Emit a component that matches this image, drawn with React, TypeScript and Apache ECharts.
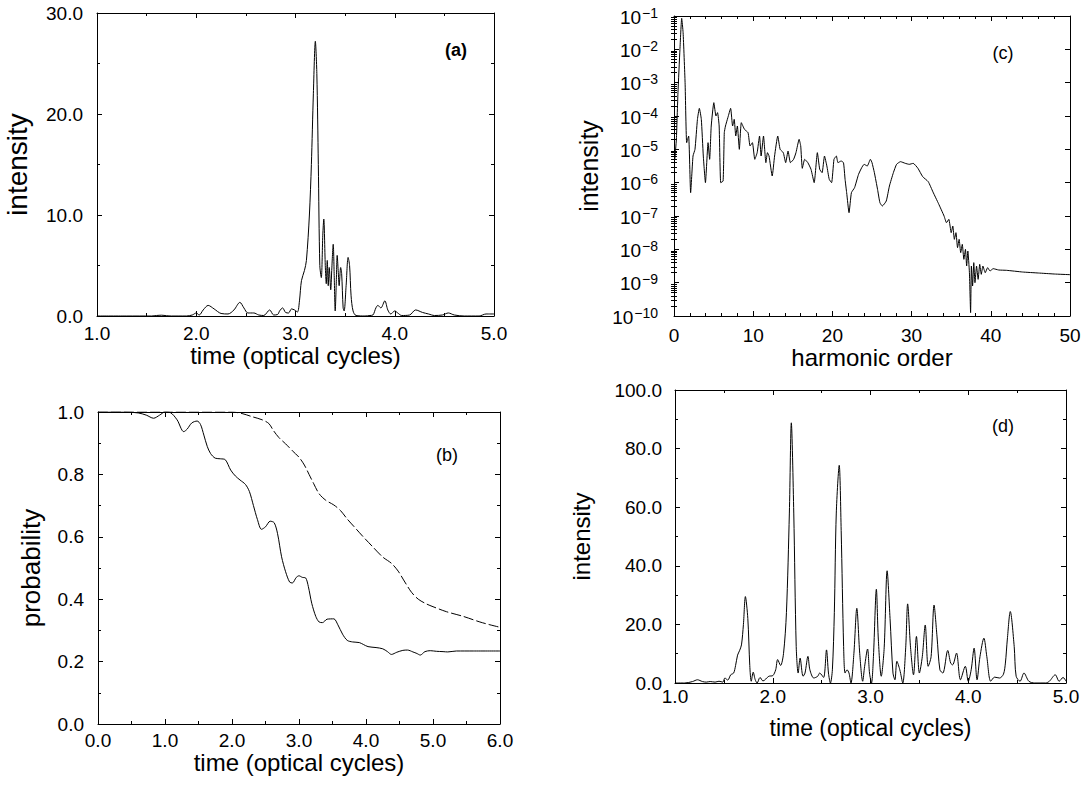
import React, { useEffect, useRef } from 'react';
import * as echarts from 'echarts';

const FONT = '"Liberation Sans", Arial, Helvetica, sans-serif';
const INK = '#000000';

// ---------- panel (a): intensity vs time ----------
const aTime = [1.0, 1.3, 1.55, 1.6, 1.65, 1.7, 1.75, 1.9, 1.96, 2.0, 2.03, 2.07, 2.12, 2.18, 2.25, 2.32, 2.38, 2.44, 2.48, 2.52, 2.58, 2.63, 2.68, 2.74, 2.78, 2.82, 2.84, 2.87, 2.9, 2.93, 2.96, 2.99, 3.02, 3.04, 3.06, 3.09, 3.11, 3.14, 3.16, 3.18, 3.2, 3.215, 3.23, 3.245, 3.26, 3.275, 3.285, 3.3, 3.31, 3.32, 3.33, 3.34, 3.355, 3.365, 3.38, 3.39, 3.4, 3.41, 3.42, 3.43, 3.44, 3.455, 3.465, 3.48, 3.49, 3.51, 3.53, 3.545, 3.56, 3.58, 3.61, 3.7, 3.75, 3.78, 3.81, 3.83, 3.86, 3.9, 3.93, 3.96, 4.0, 4.03, 4.07, 4.15, 4.21, 4.28, 4.34, 4.4, 4.48, 4.54, 4.6, 4.7, 4.85, 4.92, 5.0];
const aIntensity = [0, 0, 0, 0.05, 0.08, 0.03, 0, 0, 0.1, 0.3, 0.1, 0.6, 1.05, 0.7, 0.25, 0.2, 0.6, 1.35, 0.8, 0.3, 0.3, 0.1, 0.05, 0.6, 0.1, 0.15, 0.5, 0.8, 0.35, 0.3, 0.7, 0.6, 0.4, 1.5, 3.5, 4.5, 5.5, 10, 15, 22, 27.2, 24, 15, 5, 3.8, 8, 9.6, 5, 3.2, 5.5, 3.0, 4.8, 2.6, 4.5, 7.1, 4, 0.5, 3, 6, 4.5, 3, 4.8, 4.2, 0.8, 0.5, 3, 5.8, 5, 2, 0.5, 0.05, 0, 0.05, 0.1, 0.8, 1.05, 0.8, 1.5, 0.6, 0.2, 0.5, 0.3, 0.05, 0.1, 0.6, 0.35, 0.2, 0.05, 0.1, 0.3, 0.1, 0, 0, 0.2, 0.2];

// ---------- panel (b): probability vs time ----------
const bSolidTime = [0, 0.4, 0.6, 0.72, 0.83, 0.92, 1.0, 1.08, 1.18, 1.28, 1.33, 1.4, 1.48, 1.53, 1.58, 1.63, 1.68, 1.75, 1.83, 1.9, 1.98, 2.05, 2.12, 2.2, 2.26, 2.32, 2.38, 2.44, 2.5, 2.57, 2.63, 2.68, 2.74, 2.8, 2.86, 2.9, 2.96, 3.0, 3.05, 3.1, 3.14, 3.19, 3.25, 3.3, 3.35, 3.42, 3.52, 3.58, 3.65, 3.72, 3.8, 3.9, 3.96, 4.03, 4.15, 4.25, 4.32, 4.38, 4.46, 4.55, 4.62, 4.7, 4.76, 4.81, 4.88, 4.96, 5.05, 5.15, 5.22, 5.35, 5.6, 6.0];
const bSolidProb = [1.0, 1.0, 0.997, 0.99, 0.98, 0.99, 1.0, 0.998, 0.975, 0.937, 0.945, 0.965, 0.971, 0.96, 0.926, 0.89, 0.867, 0.852, 0.85, 0.847, 0.814, 0.795, 0.782, 0.768, 0.745, 0.7, 0.655, 0.624, 0.632, 0.65, 0.645, 0.61, 0.536, 0.488, 0.455, 0.452, 0.47, 0.475, 0.47, 0.468, 0.44, 0.387, 0.345, 0.327, 0.325, 0.336, 0.337, 0.318, 0.288, 0.268, 0.263, 0.261, 0.255, 0.248, 0.245, 0.241, 0.232, 0.223, 0.23, 0.236, 0.237, 0.231, 0.226, 0.221, 0.232, 0.235, 0.233, 0.232, 0.231, 0.234, 0.234, 0.234];
const bDashTime = [0, 1.0, 2.0, 2.15, 2.3, 2.45, 2.55, 2.62, 2.7, 2.8, 2.9, 3.0, 3.08, 3.15, 3.22, 3.3, 3.4, 3.52, 3.62, 3.72, 3.82, 3.95, 4.1, 4.25, 4.38, 4.48, 4.58, 4.68, 4.78, 4.9, 5.0, 5.2, 5.45, 5.7, 5.85, 6.0];
const bDashProb = [1.0, 1.0, 1.0, 0.995, 0.985, 0.975, 0.963, 0.94, 0.918, 0.898, 0.876, 0.855, 0.83, 0.8, 0.77, 0.738, 0.717, 0.702, 0.684, 0.657, 0.633, 0.602, 0.568, 0.535, 0.515, 0.49, 0.455, 0.422, 0.4, 0.385, 0.376, 0.36, 0.345, 0.327, 0.318, 0.31];

// ---------- panel (c): spectrum, log10(intensity) vs harmonic order ----------
const cOrder = [0.1, 0.3, 0.5, 0.75, 0.97, 1.15, 1.4, 1.6, 1.85, 2.1, 2.4, 2.65, 2.96, 3.2, 3.45, 3.7, 3.97, 4.3, 4.5, 4.7, 5.03, 5.3, 5.5, 5.7, 5.9, 6.2, 6.35, 6.5, 6.8, 7.15, 7.4, 7.6, 7.8, 8.0, 8.25, 8.5, 8.9, 9.35, 9.6, 9.9, 10.2, 10.5, 10.8, 11.0, 11.3, 11.6, 11.8, 12.0, 12.4, 12.7, 13.1, 13.4, 13.8, 14.1, 14.4, 14.7, 15.1, 15.4, 15.8, 16.0, 16.2, 16.5, 16.9, 17.3, 17.7, 18.1, 18.4, 18.7, 19.0, 19.3, 19.6, 19.9, 20.2, 20.5, 20.7, 21.1, 21.4, 21.6, 21.8, 22.1, 22.4, 22.8, 23.3, 23.7, 24.0, 24.4, 24.8, 25.0, 25.3, 25.7, 26.0, 26.3, 26.8, 27.2, 27.7, 28.1, 28.6, 29.2, 29.7, 30.2, 30.8, 31.4, 32.1, 32.7, 33.4, 34.1, 34.4, 34.7, 35.0, 35.2, 35.4, 35.6, 35.8, 36.0, 36.2, 36.4, 36.6, 36.8, 36.95, 37.1, 37.3, 37.45, 37.55, 37.7, 37.85, 38.0, 38.2, 38.4, 38.6, 38.8, 39.0, 39.3, 39.6, 39.9, 40.3, 41.0, 42.0, 44.0, 46.0, 48.0, 50.0];
const cLog10Intensity = [-5.3, -4.7, -3.3, -2.0, -1.07, -1.5, -3.0, -4.8, -4.6, -6.3, -5.2, -5.0, -4.1, -3.77, -4.1, -5.2, -6.0, -4.8, -5.3, -4.3, -3.6, -4.0, -3.9, -4.3, -6.0, -5.95, -4.5, -4.3, -4.05, -3.77, -4.3, -4.1, -4.6, -4.3, -5.0, -4.2, -4.4, -4.5, -4.9, -4.8, -5.3, -5.1, -4.6, -5.2, -4.6, -5.4, -5.1, -5.2, -5.8, -5.2, -4.6, -5.0, -5.1, -5.4, -5.05, -5.4, -5.3, -5.1, -4.7, -4.9, -5.57, -5.3, -5.4, -5.6, -6.0, -5.1, -5.6, -5.7, -5.2, -5.5, -5.9, -6.0, -5.3, -5.2, -5.4, -5.35, -5.4, -5.9, -6.3, -6.9, -6.3, -6.15, -5.75, -5.55, -5.45, -5.5, -5.3, -5.4, -5.7, -6.2, -6.6, -6.7, -6.55, -6.1, -5.7, -5.45, -5.37, -5.42, -5.45, -5.42, -5.57, -5.82, -5.97, -6.28, -6.63, -7.0, -7.2, -7.1, -7.5, -7.3, -7.7, -7.5, -7.95, -7.7, -8.1, -7.85, -8.3, -8.0, -8.5, -8.05, -8.7, -9.9, -8.5, -9.1, -8.4, -9.0, -8.5, -8.9, -8.45, -8.75, -8.5, -8.7, -8.55, -8.65, -8.58, -8.62, -8.63, -8.68, -8.71, -8.74, -8.76];

// ---------- panel (d): intensity vs time ----------
const dTime = [1.0, 1.1, 1.18, 1.23, 1.28, 1.32, 1.36, 1.41, 1.45, 1.49, 1.51, 1.54, 1.57, 1.6, 1.62, 1.64, 1.66, 1.68, 1.7, 1.72, 1.745, 1.765, 1.78, 1.8, 1.82, 1.84, 1.87, 1.9, 1.96, 2.0, 2.03, 2.05, 2.08, 2.11, 2.14, 2.17, 2.19, 2.215, 2.24, 2.26, 2.28, 2.31, 2.33, 2.36, 2.38, 2.42, 2.46, 2.48, 2.52, 2.55, 2.57, 2.59, 2.61, 2.63, 2.65, 2.68, 2.7, 2.725, 2.74, 2.76, 2.78, 2.8, 2.83, 2.86, 2.89, 2.92, 2.94, 2.97, 2.99, 3.01, 3.03, 3.06, 3.08, 3.11, 3.14, 3.17, 3.2, 3.23, 3.25, 3.27, 3.3, 3.33, 3.36, 3.38, 3.41, 3.44, 3.47, 3.5, 3.53, 3.56, 3.59, 3.62, 3.65, 3.68, 3.71, 3.74, 3.79, 3.82, 3.84, 3.88, 3.92, 3.97, 4.0, 4.03, 4.06, 4.09, 4.12, 4.16, 4.19, 4.23, 4.27, 4.32, 4.36, 4.38, 4.4, 4.43, 4.47, 4.49, 4.53, 4.57, 4.62, 4.68, 4.79, 4.83, 4.89, 4.93, 4.97, 5.0];
const dIntensity = [0, 0, 0.5, 1.1, 0.5, 0.3, 0.5, 0.3, 0.6, 0.3, 1.7, 1.0, 2.8, 3.4, 6, 9.5, 11, 13, 20, 29.5, 22, 6, 0.6, 3.7, 1.2, 0, 1.9, 0.7, 2.3, 2.5, 4.5, 8, 6, 10, 24, 58, 88.8, 58, 12.5, 3.4, 8.5, 2.3, 3.4, 9.1, 4.5, 1.7, 2.3, 3.4, 1.9, 11.3, 3.4, 0, 4.5, 24, 58, 74.3, 52, 12.5, 3.4, 4.5, 3.4, 0, 10, 25.5, 10, 0.6, 5.7, 11.6, 3.4, 0, 9, 32, 15, 2.3, 12, 38.3, 22, 3.4, 1.1, 7.4, 4.5, 0, 12, 27, 12, 2.8, 15.9, 3.4, 9, 19.8, 5.7, 9, 26.6, 16, 4.5, 3.4, 11.1, 6.8, 6.2, 10.2, 1.1, 5.7, 0.6, 4.5, 11.9, 1.1, 9, 15.3, 9, 0.6, 2, 1.7, 3, 6.8, 15, 24.4, 12.5, 2.3, 0.6, 3.4, 0.6, 0, 0, 0.6, 2.8, 0.6, 1.9, 0.6];

const zip = (xs: number[], ys: number[]) => xs.map((x, i) => [x, ys[i]]);

const lineStyle = { color: INK, width: 1 };
const tickStyle = { color: INK, width: 1 };

function xPair(grid: number, min: number, max: number, interval: number, minorSplit: number,
  fmt: (v: number) => string, name: string, nameGap: number, labelMargin: number, nameSize = 24) {
  const common: any = {
    type: 'value', gridIndex: grid, min, max, interval,
    axisLine: { show: true, onZero: false, lineStyle },
    axisTick: { show: true, inside: true, length: 5, lineStyle: tickStyle },
    minorTick: { show: minorSplit > 1, splitNumber: minorSplit, length: 3, lineStyle: tickStyle },
    splitLine: { show: false }, minorSplitLine: { show: false },
  };
  return [
    {
      ...common, position: 'bottom',
      axisLabel: { formatter: fmt, fontSize: 19, fontFamily: FONT, color: INK, margin: labelMargin, hideOverlap: false },
      name, nameLocation: 'middle', nameGap,
      nameTextStyle: { fontSize: nameSize, fontFamily: FONT, color: INK },
    },
    { ...common, position: 'top', axisLabel: { show: false } },
  ];
}

function yPair(grid: number, min: number, max: number, interval: number, minorSplit: number,
  fmt: (v: number) => string, name: string, nameGap: number, labelMargin: number, nameSize: number) {
  const common: any = {
    type: 'value', gridIndex: grid, min, max, interval,
    axisLine: { show: true, onZero: false, lineStyle },
    axisTick: { show: true, inside: true, length: 5, lineStyle: tickStyle },
    minorTick: { show: true, splitNumber: minorSplit, length: 3, lineStyle: tickStyle },
    splitLine: { show: false }, minorSplitLine: { show: false },
  };
  return [
    {
      ...common, position: 'left',
      axisLabel: { formatter: fmt, fontSize: 19, fontFamily: FONT, color: INK, margin: labelMargin },
      name, nameLocation: 'middle', nameGap,
      nameTextStyle: { fontSize: nameSize, fontFamily: FONT, color: INK },
    },
    { ...common, position: 'right', axisLabel: { show: false } },
  ];
}

const f1 = (v: number) => v.toFixed(1);
const f0 = (v: number) => String(Math.round(v));

// positions of log-scale minor ticks (2..9 within each decade), in log10 units
const logMinor: number[] = [];
for (let e = -10; e < -1; e++) for (let k = 2; k <= 9; k++) logMinor.push(e + Math.log10(k));

function buildOption(): any {
  const grids = [
    { left: 97, top: 13, width: 397, height: 303 },   // a
    { left: 98, top: 412, width: 402, height: 312 },  // b
    { left: 674, top: 16, width: 396, height: 300 },  // c
    { left: 675, top: 390, width: 391, height: 293 }, // d
  ].map((g) => ({ ...g, containLabel: false, outerBoundsMode: 'none', show: false }));

  const xAxis = [
    ...xPair(0, 1, 5, 1, 2, f1, 'time (optical cycles)', 12, 8),
    ...xPair(1, 0, 6, 1, 2, f1, 'time (optical cycles)', 26, 7),
    ...xPair(2, 0, 50, 10, 5, f0, 'harmonic order', 21, 10),
    ...xPair(3, 1, 5, 1, 2, f1, 'time (optical cycles)', 33, 4, 23),
  ];

  const logCommonRight: any = {
    type: 'value', gridIndex: 2, min: -10, max: -1, interval: 1,
    splitLine: { show: false }, axisLabel: { show: false },
  };

  const yAxis = [
    ...yPair(0, 0, 30, 10, 2, f1, 'intensity', 66, 14, 28),  // 0,1
    ...yPair(1, 0, 1, 0.2, 2, f1, 'probability', 54, 14, 26), // 2,3
    { // 4: log main axis
      type: 'log', logBase: 10, gridIndex: 2, min: 1e-10, max: 1e-1, splitNumber: 9, position: 'left',
      axisLine: { show: true, onZero: false, lineStyle },
      axisTick: { show: true, inside: true, length: 5, lineStyle: tickStyle },
      minorTick: { show: false },
      splitLine: { show: false },
      axisLabel: {
        margin: 16, color: INK, fontFamily: FONT,
        formatter: (v: number) => {
          const e = Math.round(Math.log10(v));
          return `{b|10}{s|${e < 0 ? '\u2212' : ''}${Math.abs(e)}}`;
        },
        rich: {
          b: { fontSize: 19, fontFamily: FONT, color: INK, verticalAlign: 'bottom' },
          s: { fontSize: 14, fontFamily: FONT, color: INK, verticalAlign: 'top', padding: [0, 0, 7, 1] },
        },
      },
      name: 'intensity', nameLocation: 'middle', nameGap: 73,
      nameTextStyle: { fontSize: 25, fontFamily: FONT, color: INK },
    },
    { // 5: right mirror (log10 units)
      ...logCommonRight, position: 'right',
      axisLine: { show: true, onZero: false, lineStyle },
      axisTick: { show: true, inside: true, length: 5, lineStyle: tickStyle },
    },
    { // 6: log minor ticks left
      ...logCommonRight, position: 'left',
      axisLine: { show: false },
      axisTick: { show: true, inside: true, length: 3, lineStyle: tickStyle, customValues: logMinor },
    },
    { // 7: log minor ticks right
      ...logCommonRight, position: 'right',
      axisLine: { show: false },
      axisTick: { show: true, inside: true, length: 3, lineStyle: tickStyle, customValues: logMinor },
    },
    ...yPair(3, 0, 100, 20, 2, f1, 'intensity', 82, 13, 24), // 8,9
  ];

  const base = { type: 'line', showSymbol: false, symbol: 'none', silent: true, smooth: 0.3, clip: true };

  const series = [
    { ...base, name: 'a', xAxisIndex: 0, yAxisIndex: 0, data: zip(aTime, aIntensity), lineStyle: { color: INK, width: 1 } },
    { ...base, name: 'b-solid', xAxisIndex: 2, yAxisIndex: 2, data: zip(bSolidTime, bSolidProb), lineStyle: { color: INK, width: 1 } },
    { ...base, name: 'b-dashed', xAxisIndex: 2, yAxisIndex: 2, data: zip(bDashTime, bDashProb), lineStyle: { color: INK, width: 1, type: [10, 3] } },
    { ...base, name: 'c', smooth: 0.15, xAxisIndex: 4, yAxisIndex: 4, data: cOrder.map((x, i) => [x, Math.pow(10, cLog10Intensity[i])]), lineStyle: { color: INK, width: 1 } },
    { ...base, name: 'd', xAxisIndex: 6, yAxisIndex: 8, data: zip(dTime, dIntensity), lineStyle: { color: INK, width: 1 } },
  ];

  const panelLabel = (text: string, x: number, y: number, bold: boolean) => ({
    type: 'text', x, y, silent: true,
    style: {
      text, fill: INK, fontSize: 18, fontFamily: FONT, fontWeight: bold ? 'bold' : 'normal',
      align: 'center', verticalAlign: 'middle',
    },
  });

  return {
    animation: false,
    backgroundColor: '#ffffff',
    grid: grids,
    xAxis,
    yAxis,
    series,
    graphic: [
      panelLabel('(a)', 456, 50, true),
      panelLabel('(b)', 447, 455, false),
      panelLabel('(c)', 1003, 53, false),
      panelLabel('(d)', 1003, 426, false),
    ],
  };
}

export default function App() {
  const ref = useRef<HTMLDivElement>(null);
  useEffect(() => {
    if (!ref.current) return;
    const chart = echarts.init(ref.current, undefined, { renderer: 'svg' });
    chart.setOption(buildOption());
    return () => chart.dispose();
  }, []);
  return (
    <div
      ref={ref}
      style={{ position: 'absolute', left: 0, top: 0, width: 1086, height: 785, background: '#fff' }}
    />
  );
}
